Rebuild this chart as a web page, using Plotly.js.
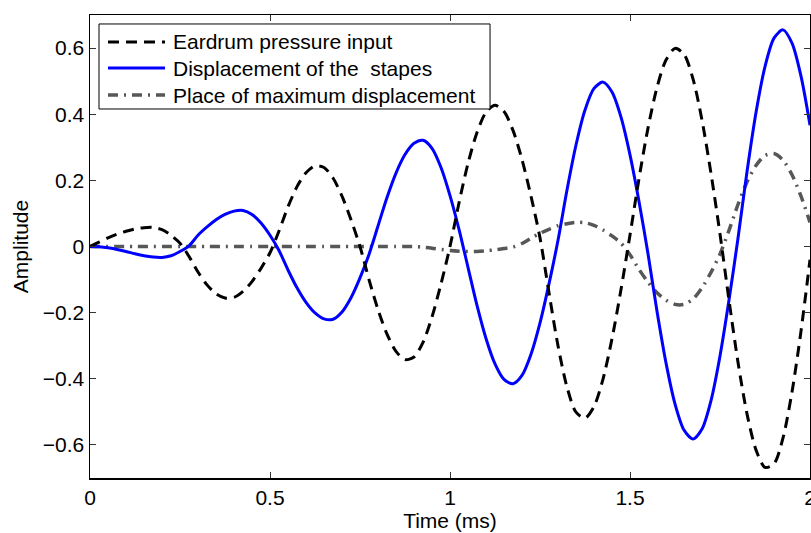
<!DOCTYPE html>
<html>
<head>
<meta charset="utf-8">
<script src="https://cdn.plot.ly/plotly-3.0.1.min.js"></script>
<style>html,body{margin:0;padding:0;background:#fff;}#chart{width:811px;height:533px;}</style>
</head>
<body>
<div id="chart"></div>
<script>
const time = [0, 0.025, 0.05, 0.075, 0.1, 0.125, 0.15, 0.175, 0.2, 0.225, 0.25, 0.275, 0.3, 0.325, 0.35, 0.375, 0.4, 0.425, 0.45, 0.475, 0.5, 0.525, 0.55, 0.575, 0.6, 0.625, 0.65, 0.675, 0.7, 0.725, 0.75, 0.775, 0.8, 0.825, 0.85, 0.875, 0.9, 0.925, 0.95, 0.975, 1.0, 1.025, 1.05, 1.075, 1.1, 1.125, 1.15, 1.175, 1.2, 1.225, 1.25, 1.275, 1.3, 1.325, 1.35, 1.375, 1.4, 1.425, 1.45, 1.475, 1.5, 1.525, 1.55, 1.575, 1.6, 1.625, 1.65, 1.675, 1.7, 1.725, 1.75, 1.775, 1.8, 1.825, 1.85, 1.875, 1.9, 1.925, 1.95, 1.975, 2.0];

const eardrumPressure = [0, 0.013, 0.026, 0.037, 0.046, 0.053, 0.057, 0.058, 0.051, 0.034, 0.010, -0.030, -0.077, -0.116, -0.143, -0.156, -0.154, -0.136, -0.106, -0.066, -0.019, 0.047, 0.120, 0.181, 0.223, 0.244, 0.239, 0.207, 0.152, 0.081, 0.000, -0.100, -0.191, -0.265, -0.317, -0.342, -0.334, -0.290, -0.213, -0.113, 0.000, 0.132, 0.251, 0.345, 0.406, 0.427, 0.408, 0.351, 0.263, 0.152, 0.026, -0.140, -0.300, -0.425, -0.501, -0.519, -0.484, -0.401, -0.279, -0.130, 0.035, 0.205, 0.358, 0.481, 0.564, 0.599, 0.581, 0.507, 0.382, 0.221, 0.038, -0.162, -0.350, -0.506, -0.615, -0.668, -0.657, -0.579, -0.440, -0.256, -0.040];

const stapesDisplacement = [0, -0.001, -0.004, -0.009, -0.015, -0.022, -0.028, -0.032, -0.033, -0.028, -0.015, 0.002, 0.034, 0.059, 0.081, 0.097, 0.107, 0.109, 0.097, 0.071, 0.034, -0.012, -0.071, -0.125, -0.169, -0.201, -0.219, -0.220, -0.198, -0.155, -0.095, -0.024, 0.062, 0.148, 0.222, 0.278, 0.312, 0.321, 0.297, 0.239, 0.154, 0.052, -0.063, -0.178, -0.278, -0.355, -0.402, -0.415, -0.390, -0.326, -0.231, -0.113, 0.019, 0.171, 0.307, 0.413, 0.478, 0.497, 0.467, 0.391, 0.277, 0.136, -0.022, -0.196, -0.352, -0.476, -0.555, -0.582, -0.552, -0.466, -0.331, -0.162, 0.025, 0.226, 0.405, 0.544, 0.630, 0.655, 0.615, 0.515, 0.367];

const maxPlaceDisplacement = [0, 0, 0, 0, 0, 0, 0, 0, 0, 0, 0, 0, 0, 0, 0, 0, 0, 0, 0, 0, 0, 0, 0, 0, 0, 0, 0, 0, 0, 0, 0, 0, 0, 0, 0, 0, 0, -0.002, -0.005, -0.009, -0.012, -0.014, -0.015, -0.015, -0.013, -0.010, -0.006, -0.002, 0.009, 0.025, 0.040, 0.052, 0.063, 0.069, 0.073, 0.072, 0.064, 0.050, 0.032, 0.010, -0.025, -0.069, -0.108, -0.140, -0.162, -0.175, -0.175, -0.159, -0.125, -0.078, -0.023, 0.049, 0.127, 0.195, 0.245, 0.275, 0.281, 0.261, 0.217, 0.152, 0.073];

const seriesNames = ['Eardrum pressure input', 'Displacement of the  stapes', 'Place of maximum displacement'];
const xTickVals = [0, 0.5, 1, 1.5, 2];
const xTickText = ['0', '0.5', '1', '1.5', '2'];
const yTickVals = [-0.6, -0.4, -0.2, 0, 0.2, 0.4, 0.6];
const yTickText = ['\u22120.6', '\u22120.4', '\u22120.2', '0', '0.2', '0.4', '0.6'];

const styles = [
  {color: '#000000', width: 3, dash: '11px,7px'},
  {color: '#0000ff', width: 3, dash: 'solid'},
  {color: '#575757', width: 3.5, dash: '10px,6px,2px,6px'}
];
const seriesData = [eardrumPressure, stapesDisplacement, maxPlaceDisplacement];

const traces = seriesData.map((ys, i) => ({
  type: 'scatter', mode: 'lines', x: time, y: ys, name: seriesNames[i],
  line: {color: styles[i].color, width: styles[i].width, dash: styles[i].dash, shape: 'spline', smoothing: 0.8}
})).reverse();

const fontFam = '"Liberation Sans", Arial, Helvetica, sans-serif';

// custom legend box (MATLAB-like, with long line samples)
const legX0 = 0.0125, legX1 = 0.5556, legY0 = 0.797, legY1 = 0.9806;
const rowY = [0.9417, 0.8855, 0.8272];
const shapes = [{type: 'rect', xref: 'paper', yref: 'paper', x0: legX0, x1: legX1, y0: legY0, y1: legY1,
  line: {color: 'black', width: 1}, fillcolor: 'white', layer: 'above'}];
const annotations = [];
seriesNames.forEach((n, i) => {
  shapes.push({type: 'line', xref: 'paper', yref: 'paper', x0: 0.025, x1: 0.1042, y0: rowY[i], y1: rowY[i],
    line: {color: styles[i].color, width: styles[i].width, dash: styles[i].dash}, layer: 'above'});
  annotations.push({xref: 'paper', yref: 'paper', x: 0.1125, y: rowY[i], xanchor: 'left', yanchor: 'middle',
    text: n.replace(/  /g, ' &nbsp;'), showarrow: false, font: {family: fontFam, size: 21, color: 'black'}});
});

const layout = {
  width: 811, height: 533,
  margin: {l: 90, r: 1, t: 15, b: 55, pad: 0},
  paper_bgcolor: 'white', plot_bgcolor: 'white',
  font: {family: fontFam, size: 21, color: 'black'},
  showlegend: false,
  xaxis: {range: [0, 2], tickvals: xTickVals, ticktext: xTickText, ticks: 'inside', ticklen: 6,
    tickcolor: '#333', tickwidth: 1, showline: true, linecolor: 'black', linewidth: 1.5, mirror: 'ticks',
    showgrid: false, zeroline: false, ticklabeloverflow: 'allow',
    title: {text: 'Time (ms)', standoff: 0, font: {size: 21}}},
  yaxis: {range: [-0.7, 0.7], tickvals: yTickVals, ticktext: yTickText, ticks: 'inside', ticklen: 6,
    tickcolor: '#333', tickwidth: 1, showline: true, linecolor: 'black', linewidth: 1.5, mirror: 'ticks',
    showgrid: false, zeroline: false, title: {text: 'Amplitude', standoff: 8, font: {size: 21}}},
  shapes: shapes,
  annotations: annotations
};

Plotly.newPlot('chart', traces, layout, {staticPlot: true, displayModeBar: false});
</script>
</body>
</html>
